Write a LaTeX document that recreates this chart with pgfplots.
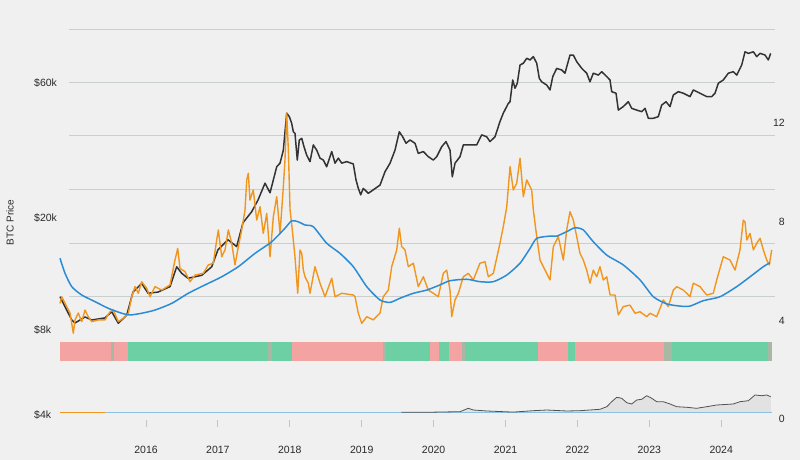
\documentclass[border=0pt]{standalone}
\usepackage{fontspec}
\setmainfont{Liberation Sans}
\usepackage{pgfplots}
\pgfplotsset{compat=1.18}
\definecolor{bg}{HTML}{F0F0F0}
\definecolor{gridc}{HTML}{C9CFCF}
\definecolor{tickc}{HTML}{C4C4C4}
\definecolor{txt}{HTML}{2A2A2A}
\definecolor{pricec}{HTML}{333333}
\definecolor{orangec}{HTML}{F0961E}
\definecolor{bluec}{HTML}{2B8CD6}
\definecolor{baseblue}{HTML}{8EC0DF}
\definecolor{stripred}{HTML}{F4A3A3}
\definecolor{stripgreen}{HTML}{6DCFA4}
\definecolor{stripgray}{HTML}{A9B7A5}
\definecolor{areac}{HTML}{E2E2E2}
\newcommand{\seg}[3]{\addplot[draw=none,fill=#3] coordinates {(#1,2.333) (#2,2.333) (#2,3.144) (#1,3.144)} --cycle;}
\pgfplotsset{base/.style={scale only axis, width=706pt, height=407pt, at={(69pt,33pt)}, anchor=south west,
  xmin=2014.929, xmax=2024.748, clip=false, axis line style={draw=none},
  tick label style={font=\fontsize{10.5}{12}\selectfont, text=txt}}}
\begin{document}
\begin{tikzpicture}
\useasboundingbox (0,0) rectangle (800pt,460pt);
\fill[bg] (0,0) rectangle (800pt,460pt);
% left log axis: BTC price, grid
\begin{axis}[base, ymode=log, ymin=3.627, ymax=100.31,
  xtick=\empty,
  ytick={4,8,20,60}, yticklabels={\$4k,\$8k,\$20k,\$60k},
  ytick style={draw=none},
  yticklabel style={anchor=west, inner sep=0pt, xshift=-35pt},
  extra y ticks={10.56,16.23,25.27,39.04,60.15,93.2}, extra y tick labels={},
  extra y tick style={grid=major},
  major grid style={draw=gridc, line width=0.9pt},
  ylabel={BTC Price},
  ylabel style={at={(axis description cs:-0.0836,0.5025)}, anchor=center, font=\fontsize{10}{12}\selectfont, text=txt}]
\addplot[pricec, line width=1.5pt, line join=round] coordinates {
(2014.804,10.5) (2014.967,8.68) (2015.013,8.47) (2015.152,8.90) (2015.245,8.68) (2015.430,8.83)
(2015.523,9.29) (2015.615,8.45) (2015.732,9.04) (2015.819,10.9) (2015.940,11.7) (2016.028,10.8)
(2016.167,10.9) (2016.334,11.4) (2016.427,13.4) (2016.497,12.7) (2016.584,12.2) (2016.775,12.5)
(2016.914,13.4) (2017.001,15.4) (2017.140,16.7) (2017.261,15.8) (2017.349,19.2) (2017.470,21.0)
(2017.558,23.1) (2017.655,26.5) (2017.725,24.5) (2017.818,30.3)
(2017.864,31.2) (2017.910,34.7) (2017.957,46.9) (2017.993,45.6) (2018.026,43.2) (2018.049,40.3)
(2018.072,39.8) (2018.104,32.0) (2018.132,37.7) (2018.166,38.2) (2018.197,35.7) (2018.235,33.3)
(2018.281,31.6) (2018.327,36.2) (2018.374,34.7) (2018.420,32.5) (2018.466,32.0) (2018.513,30.3)
(2018.583,34.3) (2018.629,31.2) (2018.675,32.5) (2018.722,31.2) (2018.791,31.6) (2018.883,31.0)
(2018.921,27.2) (2018.953,25.4) (2018.986,24.1) (2019.022,25.4) (2019.092,24.4) (2019.161,25.1)
(2019.255,26.1) (2019.324,29.1) (2019.394,31.2) (2019.463,34.7) (2019.523,40.3) (2019.570,38.7)
(2019.616,36.7) (2019.672,37.7) (2019.741,36.7) (2019.787,33.8) (2019.857,34.3) (2019.926,32.9)
(2019.996,32.0) (2020.043,32.9) (2020.113,35.7) (2020.172,37.2) (2020.228,34.7) (2020.260,27.9)
(2020.298,31.2) (2020.367,32.9) (2020.413,36.2) (2020.506,36.2) (2020.599,36.2) (2020.669,39.3)
(2020.739,38.7) (2020.784,37.2) (2020.854,38.7) (2020.923,43.8) (2020.969,46.9) (2021.039,50.8)
(2021.063,51.5) (2021.100,61.5) (2021.132,57.5) (2021.164,59.9) (2021.202,69.5) (2021.248,70.5)
(2021.295,73.4) (2021.341,72.4) (2021.387,74.4) (2021.434,70.5) (2021.470,62.3) (2021.503,60.6)
(2021.573,59.0) (2021.619,56.7) (2021.657,63.2) (2021.712,67.6) (2021.782,66.7) (2021.827,65.0)
(2021.897,75.4) (2021.943,75.4) (2021.990,71.4) (2022.060,67.6) (2022.129,65.0) (2022.175,60.6)
(2022.221,65.0) (2022.291,64.0) (2022.338,65.8) (2022.408,63.2) (2022.453,61.5) (2022.477,55.9)
(2022.537,55.2) (2022.569,48.1) (2022.638,49.5) (2022.708,51.5) (2022.755,48.8) (2022.824,48.1)
(2022.894,47.5) (2022.940,48.8) (2022.986,45.0) (2023.056,45.0) (2023.125,45.6) (2023.172,50.1)
(2023.232,51.5) (2023.288,49.5) (2023.334,54.4) (2023.403,55.9) (2023.473,55.2) (2023.566,53.7)
(2023.612,56.7) (2023.705,55.2) (2023.798,53.7) (2023.868,53.7) (2023.914,55.2) (2023.960,59.9)
(2024.029,61.5) (2024.099,65.0) (2024.168,65.8) (2024.216,64.0) (2024.285,69.5) (2024.331,77.4)
(2024.377,76.4) (2024.447,77.4) (2024.494,74.4) (2024.540,76.4) (2024.609,75.4) (2024.655,72.4)
(2024.688,76.4)};
\end{axis}
% right linear axis: ratio, strip, bottom panel
\begin{axis}[base, ymin=-0.3245, ymax=16.187,
  xtick={2016,2017,2018,2019,2020,2021,2022,2023,2024},
  xticklabels={2016,2017,2018,2019,2020,2021,2022,2023,2024},
  xtick pos=bottom, xtick align=inside, major tick length=7pt,
  xtick style={draw=tickc, line width=0.9pt},
  xticklabel style={anchor=north, inner sep=0pt, yshift=-18.5pt},
  ytick={0,4,8,12}, yticklabels={0,4,8,12}, yticklabel pos=right,
  ytick style={draw=none},
  yticklabel style={anchor=east, inner sep=0pt, xshift=10pt}]
\seg{2014.804}{2015.513}{stripred}
\seg{2015.513}{2015.559}{stripgray}
\seg{2015.559}{2015.745}{stripred}
\seg{2015.745}{2017.701}{stripgreen}
\seg{2017.701}{2017.757}{stripgray}
\seg{2017.757}{2018.035}{stripgreen}
\seg{2018.035}{2019.300}{stripred}
\seg{2019.300}{2019.334}{stripgray}
\seg{2019.334}{2019.950}{stripgreen}
\seg{2019.950}{2020.079}{stripred}
\seg{2020.079}{2020.214}{stripgreen}
\seg{2020.214}{2020.399}{stripred}
\seg{2020.399}{2020.440}{stripgray}
\seg{2020.440}{2021.456}{stripgreen}
\seg{2021.456}{2021.865}{stripred}
\seg{2021.865}{2021.967}{stripgreen}
\seg{2021.967}{2023.209}{stripred}
\seg{2023.209}{2023.312}{stripgray}
\seg{2023.312}{2024.647}{stripgreen}
\seg{2024.647}{2024.702}{stripgray}
% bottom panel
\addplot[draw=none, fill=areac] coordinates {
(2019.55,0.272) (2019.9,0.272) (2020.135,0.285) (2020.367,0.296) (2020.483,0.434) (2020.552,0.365)
(2020.739,0.325) (2021.109,0.28) (2021.387,0.337) (2021.573,0.365) (2021.851,0.325) (2022.036,0.337)
(2022.314,0.394) (2022.408,0.499) (2022.477,0.702) (2022.547,0.880) (2022.616,0.840) (2022.686,0.661)
(2022.755,0.609) (2022.825,0.771) (2022.894,0.799) (2022.964,0.945) (2023.033,0.840) (2023.103,0.702)
(2023.195,0.702) (2023.288,0.609) (2023.381,0.499) (2023.520,0.475) (2023.659,0.434) (2023.798,0.499)
(2023.937,0.568) (2024.168,0.609) (2024.261,0.702) (2024.377,0.742) (2024.470,0.974) (2024.563,0.945)
(2024.633,0.974) (2024.689,0.905) (2024.689,0.272)} --cycle;
\addplot[orangec, line width=0.9pt] coordinates {(2014.804,0.272) (2015.43,0.272)};
\addplot[baseblue, line width=0.9pt] coordinates {(2015.43,0.272) (2024.70,0.272)};
\addplot[pricec!85, line width=0.8pt, line join=round] coordinates {
(2019.55,0.272) (2019.9,0.272) (2020.135,0.285) (2020.367,0.296) (2020.483,0.434) (2020.552,0.365)
(2020.739,0.325) (2021.109,0.28) (2021.387,0.337) (2021.573,0.365) (2021.851,0.325) (2022.036,0.337)
(2022.314,0.394) (2022.408,0.499) (2022.477,0.702) (2022.547,0.880) (2022.616,0.840) (2022.686,0.661)
(2022.755,0.609) (2022.825,0.771) (2022.894,0.799) (2022.964,0.945) (2023.033,0.840) (2023.103,0.702)
(2023.195,0.702) (2023.288,0.609) (2023.381,0.499) (2023.520,0.475) (2023.659,0.434) (2023.798,0.499)
(2023.937,0.568) (2024.168,0.609) (2024.261,0.702) (2024.377,0.742) (2024.470,0.974) (2024.563,0.945)
(2024.633,0.974) (2024.689,0.905)};
% ratio (orange)
\addplot[orangec, line width=1.4pt, line join=round] coordinates {
(2014.804,4.69) (2014.828,4.96) (2014.897,4.56) (2014.943,4.30) (2014.989,3.48) (2015.013,4.02)
(2015.058,4.30) (2015.106,3.95) (2015.152,4.42) (2015.197,4.15) (2015.245,3.95) (2015.337,4.02)
(2015.430,4.02) (2015.499,4.35) (2015.545,4.42) (2015.615,3.95) (2015.684,4.09) (2015.754,4.29)
(2015.801,4.96) (2015.847,5.37) (2015.893,5.10) (2015.940,5.57) (2016.010,5.30) (2016.056,4.96)
(2016.125,5.37) (2016.218,5.23) (2016.334,5.44) (2016.403,6.45) (2016.441,6.92) (2016.473,6.11)
(2016.542,5.98) (2016.612,5.57) (2016.682,5.84) (2016.797,5.91) (2016.866,6.25) (2016.936,6.32)
(2016.983,7.26) (2017.006,7.67) (2017.053,6.58) (2017.099,6.86) (2017.145,7.67) (2017.192,7.13)
(2017.238,6.25) (2017.284,6.99) (2017.331,7.67) (2017.377,8.48) (2017.401,9.70) (2017.423,9.97)
(2017.446,8.88) (2017.492,9.29) (2017.540,8.07) (2017.586,8.61) (2017.631,7.53) (2017.679,8.34)
(2017.725,6.58) (2017.771,8.21) (2017.818,9.02) (2017.864,7.53) (2017.910,9.42) (2017.933,10.51)
(2017.957,12.40) (2017.980,10.9) (2018.003,8.5) (2018.030,7.8) (2018.072,6.58) (2018.110,5.10)
(2018.142,6.86) (2018.166,6.72) (2018.188,6.04) (2018.211,5.77) (2018.257,5.51) (2018.281,5.10)
(2018.350,6.18) (2018.420,5.51) (2018.490,4.96) (2018.583,5.71) (2018.629,4.96) (2018.722,5.10)
(2018.883,5.03) (2018.907,4.96) (2018.953,4.29) (2019.000,3.88) (2019.070,4.15) (2019.161,4.02)
(2019.254,4.29) (2019.300,4.96) (2019.370,5.23) (2019.417,6.18) (2019.487,6.86) (2019.523,7.74)
(2019.556,6.99) (2019.602,6.86) (2019.648,6.18) (2019.718,6.32) (2019.787,5.37) (2019.857,5.77)
(2019.926,5.23) (2019.996,5.10) (2020.065,4.96) (2020.135,5.91) (2020.182,6.04) (2020.228,5.23)
(2020.252,4.15) (2020.298,4.83) (2020.344,5.10) (2020.413,5.77) (2020.483,5.91) (2020.552,5.64)
(2020.645,6.32) (2020.715,6.38) (2020.761,5.77) (2020.830,5.91) (2020.923,7.13) (2020.969,7.80)
(2021.017,8.61) (2021.063,10.24) (2021.108,9.29) (2021.155,9.56) (2021.202,10.58) (2021.248,9.02)
(2021.295,9.70) (2021.364,9.29) (2021.387,8.48) (2021.434,7.40) (2021.480,6.45) (2021.526,6.18)
(2021.550,6.04) (2021.619,5.64) (2021.665,6.99) (2021.734,7.40) (2021.804,6.45) (2021.851,7.67)
(2021.897,8.41) (2021.943,8.07) (2021.990,7.40) (2022.036,6.72) (2022.082,6.45) (2022.129,6.04)
(2022.175,5.51) (2022.221,6.04) (2022.268,5.77) (2022.314,6.18) (2022.360,5.64) (2022.408,5.77)
(2022.454,5.03) (2022.523,5.03) (2022.569,4.22) (2022.638,4.56) (2022.731,4.62) (2022.801,4.29)
(2022.871,4.35) (2022.964,4.15) (2023.010,4.29) (2023.103,4.15) (2023.149,4.49) (2023.195,4.83)
(2023.264,4.56) (2023.334,5.23) (2023.381,5.37) (2023.473,5.23) (2023.566,4.96) (2023.612,5.51)
(2023.705,5.37) (2023.798,5.03) (2023.890,5.10) (2023.937,5.64) (2024.029,6.58) (2024.122,6.45)
(2024.192,6.04) (2024.261,6.86) (2024.307,8.07) (2024.331,8.00) (2024.355,7.26) (2024.401,7.53)
(2024.447,6.86) (2024.494,7.13) (2024.540,7.33) (2024.586,6.86) (2024.633,6.45) (2024.669,6.25)
(2024.702,6.86)};
% moving average (blue)
\addplot[bluec, line width=1.5pt, smooth, tension=0.4] coordinates {
(2014.804,6.52) (2014.874,5.91) (2014.967,5.37) (2015.106,5.03) (2015.291,4.76) (2015.476,4.49)
(2015.662,4.29) (2015.777,4.22) (2015.940,4.29) (2016.125,4.42) (2016.357,4.69) (2016.588,5.10)
(2016.821,5.44) (2017.053,5.77) (2017.284,6.18) (2017.516,6.72) (2017.748,7.19) (2017.933,7.74)
(2018.026,8.04) (2018.118,8.00) (2018.212,7.87) (2018.327,7.80) (2018.513,7.13) (2018.698,6.72)
(2018.883,6.18) (2019.070,5.37) (2019.254,4.83) (2019.394,4.73) (2019.533,4.90) (2019.718,5.10)
(2019.904,5.23) (2020.089,5.44) (2020.228,5.61) (2020.460,5.67) (2020.645,5.57) (2020.830,5.57)
(2021.017,5.84) (2021.202,6.32) (2021.341,6.92) (2021.434,7.33) (2021.619,7.42) (2021.712,7.42)
(2021.851,7.60) (2021.967,7.76) (2022.082,7.67) (2022.221,7.19) (2022.408,6.65) (2022.638,6.25)
(2022.871,5.64) (2023.056,4.96) (2023.242,4.67) (2023.427,4.58) (2023.566,4.58) (2023.751,4.80)
(2023.983,4.96) (2024.216,5.37) (2024.401,5.77) (2024.586,6.18) (2024.679,6.34)};
\end{axis}
\end{tikzpicture}
\end{document}
